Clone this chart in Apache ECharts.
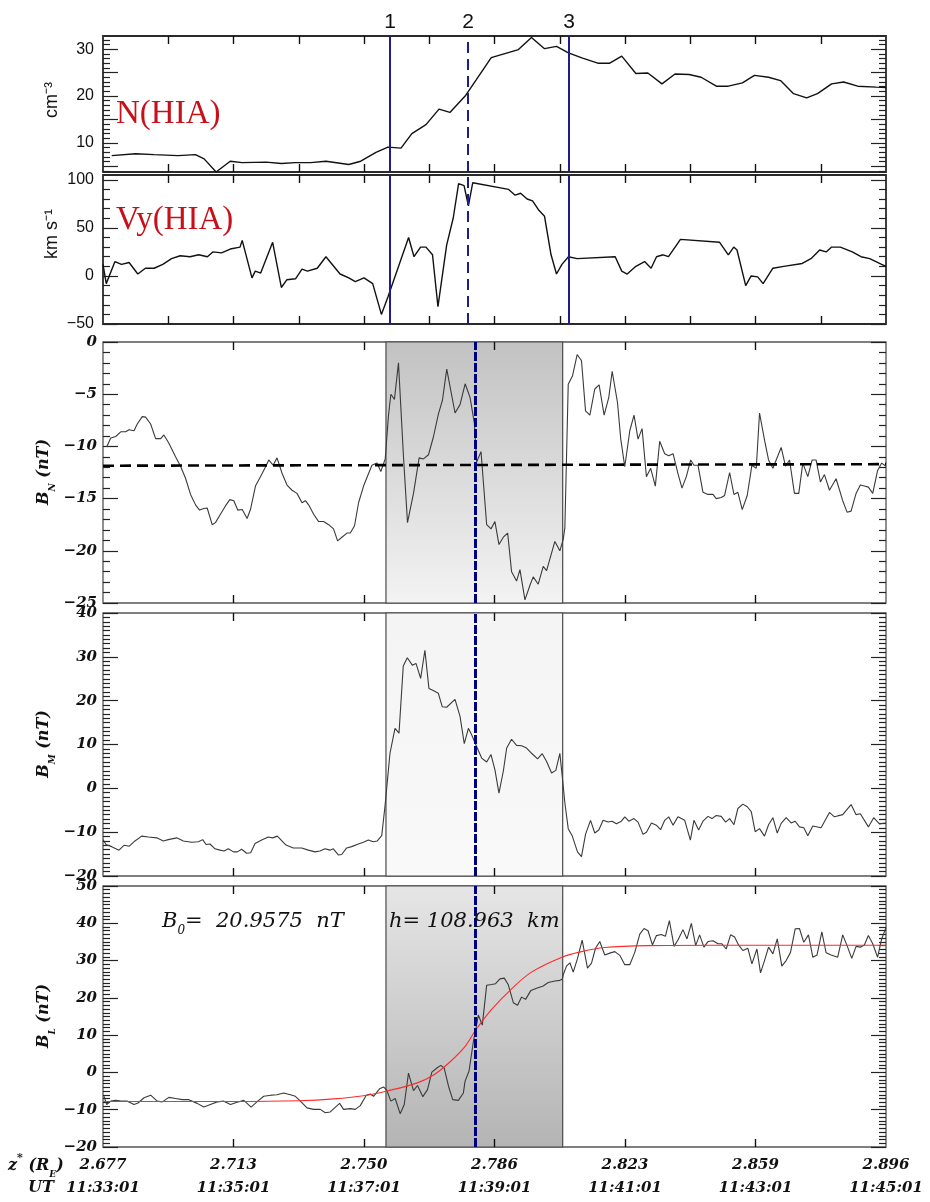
<!DOCTYPE html>
<html><head><meta charset="utf-8">
<script src="https://cdn.jsdelivr.net/npm/echarts@6/dist/echarts.min.js"></script>
<style>html,body{margin:0;padding:0;background:#fff}#c{width:930px;height:1202px}</style>
</head><body><div id="c"></div>
<script>
// ---- tick labels ----
const timeTicks = [0, 120, 240, 360, 480, 600, 720];
const zLabels = ['2.677', '2.713', '2.750', '2.786', '2.823', '2.859', '2.896'];
const utLabels = ['11:33:01', '11:35:01', '11:37:01', '11:39:01', '11:41:01', '11:43:01', '11:45:01'];
const yRanges = [[3.8, 32.8], [-50, 105], [-25, 0], [-20, 40], [-20, 50]];
const yLabelVals = [[10, 20, 30], [-50, 0, 50, 100], [-25, -20, -15, -10, -5, 0], [-20, -10, 0, 10, 20, 30, 40], [-20, -10, 0, 10, 20, 30, 40, 50]];
const yMajorStep = [5, 50, 5, 10, 10];
const yMinorStep = [1, 10, 1, 1, 1];

// ---- events ----
const topLines = [264, 335.8, 428.6];
const topLineNames = ['1', '2', '3'];
const shadeRange = [260.2, 422.7];
const centerLine = 342.7;
const bnRef = [[0, -11.85], [720, -11.7]];
const fitText = ['20.9575', '108.963'];

// ---- series (time in s from 11:33:01) ----
const nData = [[8,7.3],[30,7.7],[47,7.5],[69,7.3],[85,7.5],[93,6.6],[104,3.8],[117,6.1],[128,5.8],[150,5.9],[164,5.6],[177,5.8],[191,5.8],[205,6.1],[226,5.4],[237,6.1],[251,8],[262,9.1],[274,8.9],[284,12],[297,13.9],[309,17.2],[319,16.5],[333,20],[343,23.4],[357,28.2],[382,29.9],[394,32.5],[406,30.1],[417,30.6],[428,29.2],[441,28.1],[455,27],[466,27],[477,28.5],[490,24.8],[501,24.9],[514,22.6],[526,24.7],[539,24.6],[550,24],[564,22.1],[575,22.1],[588,22.8],[599,24.4],[612,24],[623,23.3],[635,20.5],[647,19.6],[657,20.5],[670,22.6],[681,23],[694,22.1],[711,21.9],[720,21.8]];

const vyData = [[0,12],[3,-8],[11,15],[17,12],[24,14],[32,2],[39,8],[47,8],[55,12],[63,18],[71,21],[80,20],[88,22],[96,20],[101,25],[109,24],[117,28],[126,30],[128,37],[137,-2],[140,5],[145,3],[156,35],[164,-12],[169,-4],[177,-3],[183,7],[188,5],[197,8],[205,20],[218,2],[226,-2],[232,-6],[240,-2],[248,-8],[256,-40],[262,-22],[281,40],[286,20],[292,30],[297,30],[303,22],[308,-32],[316,32],[322,60],[327,96],[332,94],[336,73],[340,97],[373,90],[379,84],[384,86],[390,80],[395,78],[401,68],[406,62],[412,22],[417,2],[422,12],[428,20],[436,18],[471,20],[477,5],[482,2],[490,10],[498,15],[504,8],[509,20],[515,22],[520,20],[531,38],[567,35],[575,22],[580,30],[583,27],[591,-10],[596,0],[602,-1],[607,-8],[616,8],[626,10],[643,13],[651,18],[659,27],[665,25],[670,30],[678,30],[689,25],[697,20],[705,18],[716,12],[720,10]];

const bnData = [[3.4,-10.05],[7.1,-9.2],[11.7,-9.05],[16.3,-8.6],[20.8,-8.6],[23.9,-8.4],[28.5,-8.5],[31.5,-7.85],[36.1,-7.15],[39.2,-7.2],[43.8,-7.85],[48.4,-9.26],[53,-9.26],[56,-8.9],[60.6,-9.7],[66.7,-11],[71.3,-11.9],[75.9,-13.05],[80.5,-14.6],[85.1,-15.6],[88.8,-16.1],[92.7,-15.95],[95.8,-15.9],[100.4,-17.5],[103.4,-17.3],[108,-16.5],[112.6,-15.7],[116.6,-15.1],[120.3,-15.2],[123.9,-16.1],[128,-16.05],[132.5,-16.9],[135.6,-16.05],[140.2,-13.8],[144.8,-12.9],[149.3,-12],[152.4,-11.3],[156.4,-11.8],[160,-11.1],[164.7,-12.6],[169.2,-13.7],[173.8,-14.2],[178.4,-14.5],[183,-15.4],[186.1,-15.2],[189.1,-15.6],[193.7,-16.5],[198.3,-17.2],[202.9,-17.2],[207.5,-17.5],[212,-17.9],[215.7,-19.05],[219.7,-18.7],[224.3,-18.3],[227.4,-18.3],[231.3,-17.6],[235,-15.4],[239.6,-13.8],[244.2,-12.6],[247.3,-11.8],[251.9,-11.6],[255.5,-12.4],[259.5,-11.2],[262.5,-7.05],[264.7,-5],[268,-5.5],[271.7,-2],[276.3,-11],[280,-17.3],[285.5,-14.5],[290.7,-11.1],[294.7,-11.2],[299.3,-10.8],[303.8,-9.1],[308.4,-6.9],[312.1,-5.6],[316.1,-2.6],[323.7,-6.8],[328.3,-6],[333,-4],[337.5,-5.3],[341.5,-7.8],[343.6,-11.5],[347.6,-10.5],[352.8,-17.5],[356.8,-17.9],[360.4,-17.2],[364.1,-19.4],[368.1,-18.7],[372.1,-18.3],[375.7,-22],[380.3,-22.9],[383.4,-21.8],[388,-24.7],[392.6,-23.3],[395.6,-22.5],[400.2,-23.2],[404.8,-21.5],[407.9,-21.9],[415.5,-19.1],[420.1,-20],[423.2,-18.9],[424.7,-17.8],[427.8,-4.05],[431.7,-3.26],[436,-1.2],[440,-1.8],[443.7,-6.6],[447.7,-7],[452.2,-4.5],[456.2,-4.1],[460.8,-7],[465.1,-5.3],[468.2,-2.8],[473.1,-5.8],[476.1,-9.3],[479.8,-11.95],[484.4,-8.5],[488.3,-7],[492,-9.3],[495.7,-8.3],[499.7,-12.9],[503.6,-12.1],[507.9,-13.8],[511.9,-9.5],[516.5,-10.7],[520.2,-10.9],[524.2,-10.7],[528.7,-12.6],[532.4,-14],[536.4,-12.9],[540.4,-11.3],[543.4,-11.8],[547.1,-11.8],[551.7,-14.4],[556.3,-14.6],[560.9,-14.6],[563.9,-15],[568.5,-14.9],[571.6,-14.7],[576.2,-12.5],[580.2,-14.6],[583.8,-14.4],[587.8,-16.05],[592.4,-14.7],[596.7,-11.8],[600.7,-12.1],[603.7,-6.8],[608.3,-9.4],[612,-11.3],[616,-12.1],[623.6,-10.1],[627.6,-11.9],[631.3,-11.3],[635.8,-14.5],[639.8,-14.5],[643.5,-11.6],[648.1,-12.9],[652.1,-11.3],[655.7,-11.3],[659.7,-13.4],[663.4,-12.7],[668,-14.2],[674.1,-13.1],[680.2,-15.2],[684.2,-16.3],[687.9,-16.2],[692.5,-14.5],[696.4,-13.7],[700.1,-13.8],[703.8,-13.9],[707.8,-14.5],[712.3,-12.3],[716,-11.6],[720,-11.9]];

const bmData = [[0,-11.7],[2.8,-12.8],[8,-13.3],[14.7,-14.1],[19.3,-13],[24.2,-13.2],[29.4,-12],[35.6,-10.9],[41.7,-11.1],[49.4,-11.3],[55.5,-12],[60,-11.7],[67.8,-11.3],[73.9,-12],[81.6,-12.3],[87.7,-12.2],[91.7,-11.7],[94.7,-12.8],[98.4,-12.7],[103,-13.8],[107.6,-14.1],[111.3,-14.3],[115.2,-13.8],[120,-14.5],[123.5,-14.5],[127.5,-13.9],[132.1,-14.8],[135.8,-14.7],[139.8,-12.6],[145.9,-11.8],[152,-11.1],[156,-11.3],[160.3,-10.9],[168.3,-12.95],[175,-13.6],[182.7,-13.6],[188.8,-14.1],[195,-14.5],[199.5,-14.3],[204.1,-13.8],[208.7,-14.1],[211.8,-13.8],[216.4,-15.2],[219.5,-15.1],[224.1,-13.6],[228.7,-13.3],[234.8,-12.7],[239.4,-12.3],[244,-11.8],[248.5,-12.2],[252.2,-12],[256.3,-10.8],[259.3,-4.1],[263.9,8],[268.5,13.7],[272.2,12.6],[276.1,27.9],[279.8,29.8],[284.4,28.1],[287.8,28.5],[292.1,25.1],[296,31.5],[299.7,22.8],[303.7,22.3],[308.3,21.7],[312,18.6],[316,18.5],[323.7,20.3],[328.3,16.4],[332.2,10.2],[336,13.7],[339,12.2],[343.6,9.5],[348.2,6.9],[352.8,6],[356.8,7.7],[360.4,4.2],[364.1,-1.1],[368.1,3.9],[371.2,9.2],[375.7,11.2],[380.3,9.8],[384.9,9.7],[389.5,9.2],[394.1,8],[399.6,6.7],[403.9,7.9],[407.9,6.1],[412.5,3.5],[416.4,4.1],[420.1,8],[422.3,2.7],[424.7,-3.3],[427.8,-9.2],[431.4,-10.8],[436.3,-14.5],[440,-15.6],[443.7,-10.5],[448.3,-7.3],[452.2,-10.2],[455.9,-9.5],[459.9,-7.3],[464.5,-7.7],[468.2,-7.5],[472.1,-8.1],[476.7,-7.5],[479.8,-6.5],[483.5,-7.5],[488.3,-6.9],[492,-7.7],[496.6,-10.5],[499.7,-10],[504.3,-7.9],[508.8,-8.4],[512.8,-9.4],[516.5,-7.3],[520.2,-6.5],[524.2,-8.4],[528.7,-6.5],[534.9,-7.3],[540.1,-11.8],[543.4,-7.3],[547.7,-9.5],[551.7,-7.5],[556.3,-6.4],[560,-6.9],[563.9,-6.2],[568.5,-6.4],[572.5,-7.7],[576.2,-6.9],[580.2,-8.3],[583.8,-4.6],[588.4,-3.6],[592.4,-4.2],[596.1,-5.3],[599.7,-9.9],[603.7,-9.2],[608.3,-10.9],[612,-8.3],[616,-6.7],[620,-10.2],[623.6,-8],[628.2,-6.7],[632.8,-7.9],[636.5,-7.5],[640.4,-8.8],[644.4,-9],[648.1,-10.8],[652.7,-8.6],[660.3,-9],[668,-5.5],[672.6,-6.5],[680.2,-6],[687.9,-3.7],[692.5,-6],[696.4,-5.8],[703.8,-8.8],[708.7,-6.7],[713.9,-8.1],[720,-7.9]];

const blData = [[0.9,-6.4],[3.4,-8.6],[7.1,-7.7],[11.7,-7.5],[16.3,-7.7],[22.4,-7.7],[28.5,-8.6],[32.2,-8.2],[37.7,-6.8],[43.8,-6.1],[49.9,-7.7],[54.5,-7.9],[60.6,-6.7],[66.7,-7],[72.9,-7.3],[79,-7.3],[86.6,-8.3],[92.7,-9.3],[98.8,-8.6],[105,-7.9],[111.1,-7.7],[117.2,-8.6],[123.3,-8],[129.5,-7.5],[136.2,-9.3],[142.3,-7.7],[147.8,-6.4],[154.5,-6.1],[160,-6],[166.2,-5.5],[172.3,-6],[176.9,-6.4],[181.5,-7.7],[187.6,-9.5],[193.7,-9.9],[199.8,-9.9],[204.4,-10.8],[209,-10.6],[213,-9.5],[217.6,-8.3],[221.2,-9.9],[227.4,-9.7],[232,-9.9],[236.6,-8.9],[242.1,-6.1],[245.8,-5.8],[248.8,-6.4],[254.3,-4.4],[258,-3.9],[261,-4.8],[264.7,-7.7],[268.7,-7],[273.3,-11.1],[277,-8.6],[280.9,-0.2],[285.5,-4.9],[289.2,-3.5],[294.1,-6.5],[298.4,-4.6],[302.4,0.1],[307,1.2],[310.6,1.9],[313.7,1.2],[317.7,-3.7],[321.6,-7.3],[326.8,-7.5],[331.4,-5.5],[332.9,-2.4],[336.6,0.4],[340.6,8.3],[343,11.8],[345.1,15.4],[348.8,12.7],[352.8,23.4],[357.4,23.6],[361,23.8],[365,25.1],[369,25.3],[372.7,23.5],[377.3,18.7],[381.2,18],[384.9,20.2],[388.6,19.6],[393.5,22],[398.7,22.6],[404.8,23.2],[409.4,24.1],[415.5,24.5],[420.1,24.7],[422.3,25],[423.2,26.2],[426.2,28.5],[429.3,29.4],[432.4,26.9],[436.3,30.5],[440.6,35.5],[445.5,28],[449.2,29.3],[452.9,33.3],[456.8,35.1],[461.4,31.5],[466,32],[470.6,32.4],[475.2,31.4],[479.8,28.9],[484.4,28.9],[489,32.2],[493.6,37.1],[497.5,38.6],[501.2,38],[505.2,34.2],[508.9,36.7],[513.4,37],[517.1,36.5],[520.8,40.7],[525.1,33.8],[528.7,35.5],[533.3,38.3],[537,35.8],[541,40],[545,34],[548.6,36.9],[552.6,33.6],[556.3,35.1],[560.9,35.3],[565.5,34.5],[569.1,34.5],[573.1,33.1],[577.1,36.9],[580.8,36.3],[584.4,34.2],[588.4,32.7],[593,33.3],[596.7,29.1],[601.3,33.1],[604.6,26.7],[608.3,30],[612,33.6],[616,31.8],[620,35.8],[624.2,28.5],[628.2,30],[632.2,32.2],[636.5,38.5],[640.4,38.6],[644.4,34.9],[648.7,36.9],[652.7,30.9],[656.6,31.5],[661,37.7],[664.9,32.1],[669.5,31.5],[675.6,30.9],[680.2,36.9],[684.2,34],[688.5,30.6],[692.5,33.8],[696.4,33.6],[700.1,34.2],[703.8,36.7],[707.8,34.5],[712.3,30.9],[716,35.8],[720,38.9]];

const blFit = [[0,-7.8],[120,-7.8],[180,-7.6],[212,-7.1],[243,-6.1],[261,-5],[289,-2.8],[304,-0.7],[319,2.8],[333,7],[343,11.5],[357,16.8],[376,22.5],[394,26.9],[422,30.9],[440,32.4],[461,33.5],[501,34],[560,34.1],[720,34.1]];

// ---- layout ----
const grids = [
  { left: 103, right: 44, top: 36, height: 136 },
  { left: 103, right: 44, top: 175, height: 149 },
  { left: 103, right: 44, top: 342, height: 261 },
  { left: 103, right: 44, top: 613, height: 263 },
  { left: 103, right: 44, top: 886, height: 261 }
];

function seq(a, b, s) { const r = []; for (let v = a; v <= b + 1e-9; v += s) r.push(+v.toFixed(6)); return r; }
const serif = "'DejaVu Serif', serif";
const sans = "'Liberation Sans', Arial, sans-serif";
const tickColor = '#222';

const xAxes = [], yAxes = [];
grids.forEach((g, i) => {
  const top = i < 2;
  const xt = top ? seq(60, 660, 60) : seq(120, 600, 120);
  ['bottom', 'top'].forEach((pos) => {
    const showLab = (i === 4 && pos === 'bottom');
    xAxes.push({
      type: 'value', gridIndex: i, position: pos, min: 0, max: 720, z: 10,
      axisLine: { show: false, onZero: false }, splitLine: { show: false },
      axisTick: { show: true, inside: true, length: 8, customValues: xt, lineStyle: { color: '#111', width: 1.4 } },
      axisLabel: showLab ? {
        show: true, customValues: timeTicks, margin: 7, showMinLabel: true, showMaxLabel: true,
        formatter: (v) => { const k = timeTicks.indexOf(v); return '{z|' + zLabels[k] + '}\n{u|' + utLabels[k] + '}'; },
        rich: {
          z: { fontFamily: serif, fontStyle: 'italic', fontWeight: 'bold', fontSize: 15, lineHeight: 23, color: '#111' },
          u: { fontFamily: serif, fontStyle: 'italic', fontWeight: 'bold', fontSize: 15, lineHeight: 23, color: '#111' }
        }
      } : { show: false }
    });
  });
  const [mn, mx] = yRanges[i];
  const majors = seq(Math.ceil(mn / yMajorStep[i]) * yMajorStep[i], mx, yMajorStep[i]);
  const minors = seq(Math.ceil(mn / yMinorStep[i]) * yMinorStep[i], mx, yMinorStep[i]).filter(v => !majors.some(m => Math.abs(m - v) < 1e-6));
  const labStyle = top
    ? { fontFamily: sans, fontSize: 16, color: '#111', margin: 9 }
    : { fontFamily: serif, fontStyle: 'italic', fontWeight: 'bold', fontSize: 15, color: '#111', margin: 6 };
  const mk = (pos, ticks, len, lab) => ({
    type: 'value', gridIndex: i, position: pos, min: mn, max: mx,
    axisLine: { show: false, onZero: false }, splitLine: { show: false },
    axisTick: { show: true, inside: true, length: len, customValues: ticks, lineStyle: { color: tickColor, width: 1.2 } },
    axisLabel: lab ? Object.assign({ show: true, customValues: yLabelVals[i], formatter: (v) => String(v).replace('-', '\u2212') }, labStyle) : { show: false }
  });
  yAxes.push(mk('left', majors, 15, true));
  yAxes.push(mk('right', majors, 15, false));
  yAxes.push(mk('left', minors, 7, false));
  yAxes.push(mk('right', minors, 7, false));
});

const lineSeries = (i, data, style) => ({
  type: 'line', xAxisIndex: 2 * i, yAxisIndex: 4 * i, data, showSymbol: false, symbol: 'none',
  lineStyle: style, z: 3, silent: true, animation: false
});

const shadeColors = [
  ['#c2c2c2', '#f3f3f3'],
  ['#f4f4f4', '#f9f9f9'],
  ['#e6e6e6', '#b4b4b4']
];

const series = [];
// N
const s0 = lineSeries(0, nData, { color: '#111', width: 1.4 });
s0.markLine = {
  silent: true, symbol: ['none', 'none'], animation: false,
  lineStyle: { color: '#1e1e8a', width: 2 },
  label: { show: true, position: 'end', formatter: '{b}', fontFamily: sans, fontSize: 21, color: '#111', distance: 3 },
  data: topLines.map((x, k) => ({ xAxis: x, name: topLineNames[k], lineStyle: { type: k === 1 ? [11, 6] : 'solid' } }))
};
series.push(s0);
// Vy
const s1 = lineSeries(1, vyData, { color: '#111', width: 1.4 });
s1.markLine = {
  silent: true, symbol: ['none', 'none'], animation: false,
  lineStyle: { color: '#1e1e8a', width: 2 }, label: { show: false },
  data: topLines.map((x, k) => ({ xAxis: x, lineStyle: { type: k === 1 ? [11, 6] : 'solid' } }))
};
series.push(s1);

// B panels
[bnData, bmData, blData].forEach((d, j) => {
  const i = j + 2;
  series.push({
    type: 'line', xAxisIndex: 2 * i, yAxisIndex: 4 * i, data: [], z: 1, silent: true, animation: false,
    markArea: {
      silent: true, animation: false,
      itemStyle: {
        color: { type: 'linear', x: 0, y: 0, x2: 0, y2: 1, colorStops: [{ offset: 0, color: shadeColors[j][0] }, { offset: 1, color: shadeColors[j][1] }] },
        borderColor: '#4a4a4a', borderWidth: 1.2
      },
      data: [[{ xAxis: shadeRange[0] }, { xAxis: shadeRange[1] }]]
    }
  });
  series.push(lineSeries(i, d, { color: '#3a3a3a', width: 1.1 }));
});
// reference dashed line in B_N
series.push(Object.assign(lineSeries(2, bnRef, { color: '#000', width: 2.6, type: [11, 6] }), { z: 4 }));
// tanh fit in B_L
series.push(Object.assign(lineSeries(4, blFit, { color: '#ff2a2a', width: 1.1 }), { smooth: 0.35, z: 4 }));
// centre line across B panels
[2, 3, 4].forEach(i => {
  series.push({
    type: 'line', xAxisIndex: 2 * i, yAxisIndex: 4 * i, data: [], z: 6, silent: true, animation: false,
    markLine: {
      silent: true, symbol: ['none', 'none'], animation: false, label: { show: false },
      lineStyle: { color: '#00007f', width: 3, type: [9, 2] },
      data: [{ xAxis: centerLine }]
    }
  });
});

const bRich = {
  b: { fontFamily: serif, fontStyle: 'italic', fontWeight: 'bold', fontSize: 16, lineHeight: 26, verticalAlign: 'middle', fill: '#111', color: '#111' },
  s: { fontFamily: serif, fontStyle: 'italic', fontWeight: 'bold', fontSize: 9, lineHeight: 9, verticalAlign: 'bottom', fill: '#111', color: '#111' },
  p: { fontFamily: serif, fontWeight: 'bold', fontSize: 11, lineHeight: 11, verticalAlign: 'top', fill: '#111', color: '#111' }
};
const aRich = {
  b: { fontFamily: serif, fontStyle: 'italic', fontSize: 21, lineHeight: 30, verticalAlign: 'middle', fill: '#111', color: '#111' },
  s: { fontFamily: serif, fontStyle: 'italic', fontSize: 12, lineHeight: 12, verticalAlign: 'bottom', fill: '#111', color: '#111' }
};

const vtext = (x, y, text, rich) => ({ type: 'text', x, y, rotation: Math.PI / 2, z: 10, silent: true,
  style: { text, rich, align: 'center', verticalAlign: 'middle', fill: '#111' } });

const graphic = [
  { type: 'text', x: 116, y: 114, z: 10, silent: true, style: { text: 'N(HIA)', font: "33px 'Liberation Serif', serif", fill: '#c8101a', verticalAlign: 'middle' } },
  { type: 'text', x: 116, y: 220, z: 10, silent: true, style: { text: 'Vy(HIA)', font: "33px 'Liberation Serif', serif", fill: '#c8101a', verticalAlign: 'middle' } },
  { type: 'text', x: 52, y: 100, rotation: Math.PI / 2, z: 10, silent: true, style: { text: 'cm\u207B\u00B3', font: "18px 'Liberation Sans', Arial", fill: '#111', align: 'center', verticalAlign: 'middle' } },
  { type: 'text', x: 52, y: 234, rotation: Math.PI / 2, z: 10, silent: true, style: { text: 'km s\u207B\u00B9', font: "18px 'Liberation Sans', Arial", fill: '#111', align: 'center', verticalAlign: 'middle' } },
  vtext(44, 472, '{b|B}{s|N}{b| (nT)}', bRich),
  vtext(44, 744, '{b|B}{s|M}{b| (nT)}', bRich),
  vtext(44, 1016, '{b|B}{s|L}{b| (nT)}', bRich),
  { type: 'text', x: 162, y: 922, z: 10, silent: true, style: { text: '{b|B}{s|0}{b|=  ' + fitText[0] + '  nT}', rich: aRich, verticalAlign: 'middle' } },
  { type: 'text', x: 389, y: 922, z: 10, silent: true, style: { text: '{b|h= ' + fitText[1] + '  km}', rich: aRich, verticalAlign: 'middle' } },
  { type: 'text', x: 8, y: 1166, z: 10, silent: true, style: { text: '{b|z}{p|*}{b| (R}{s|E}{b|)}', rich: bRich, verticalAlign: 'middle' } },
  { type: 'text', x: 28, y: 1188, z: 10, silent: true, style: { text: '{b|UT}', rich: bRich, verticalAlign: 'middle' } }
];

const option = {
  animation: false,
  backgroundColor: '#fff',
  grid: grids.map((g, i) => Object.assign({ show: true, borderColor: i < 2 ? '#2a2a2a' : '#555', borderWidth: i < 2 ? 1.8 : 1.3 }, g)),
  xAxis: xAxes,
  yAxis: yAxes,
  series,
  graphic
};
const chart = echarts.init(document.getElementById('c'), null, { renderer: 'canvas' });
chart.setOption(option);
</script>
</body></html>
